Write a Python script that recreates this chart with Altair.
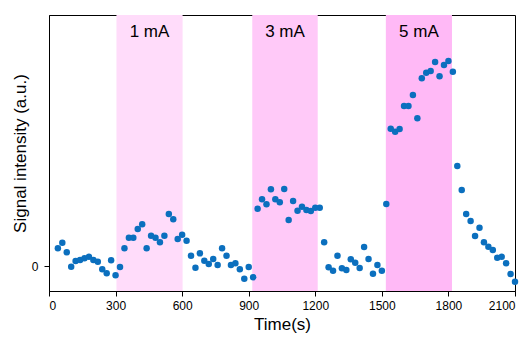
import altair as alt
import pandas as pd

# time (s), step 20 s
times = list(range(40, 2101, 20))
signal = [
    17.7, 23.3, 13.7, -0.7, 5, 6, 7.7, 9.3, 6, 4.3, -3.3, -7.3, 5.7, -9.3, -1,
    17.7, 28.3, 28.3, 37, 41.7, 17.7, 30.3, 28.3, 23.7, 30.3, 52, 46.7, 27, 31.3,
    25.3, 10.3, -1.7, 12.7, 5.3, 2, 7, 1, 17.7, 10.3, 1, 2.7, -3.3, -12.7, -1, -11.3,
    57.3, 66.7, 61.7, 76.7, 66.7, 63.7, 77, 46, 65, 55.3, 59.3, 56, 55, 58.3, 58.3,
    23.7, -1.3, -4.7, 10.3, -2.3, -4, 6.7, 3.3, -2, 19, 7, -7.7, 1, -4.7,
    62, 137.3, 134.3, 137, 160, 160, 171, 147.7, 187.7, 193.3, 195, 204, 189.7,
    201, 205, 194.3,
    100, 76, 52, 45, 30, 38.3, 23.7, 19.3, 16, 8.3, 9.3, 2.7, -8, -15.7,
]

region_labels = ["1 mA", "3 mA", "5 mA"]
region_start = [304, 916, 1518]
region_end = [602, 1211, 1816]
region_colors = ["#FFDCFA", "#FFC9F8", "#FFB9F6"]
label_y = [234, 234, 234]

x_ticks = [0, 300, 600, 900, 1200, 1500, 1800, 2100]
y_ticks = [0]

pts = pd.DataFrame({"t": times, "s": signal})
regions = pd.DataFrame({
    "label": region_labels,
    "start": region_start,
    "end": region_end,
    "mid": [(a + b) / 2 for a, b in zip(region_start, region_end)],
    "ly": label_y,
    "color": region_colors,
})

FONT = "Liberation Sans"
xscale = alt.Scale(domain=[0, 2100], nice=False, zero=False)
yscale = alt.Scale(domain=[-25, 251], nice=False, zero=False)

xaxis = alt.Axis(values=x_ticks, format="d", title="Time(s)", grid=False,
                 labelFontSize=12, titleFontSize=17, titleFontWeight="normal",
                 labelFont=FONT, titleFont=FONT, domainColor="black",
                 tickColor="black", labelColor="black", titleColor="black",
                 tickSize=5, labelPadding=4, titlePadding=5)
yaxis = alt.Axis(values=y_ticks, format="d", title="Signal intensity (a.u.)",
                 grid=False, labelFontSize=12, titleFontSize=17,
                 titleFontWeight="normal", labelFont=FONT, titleFont=FONT,
                 domainColor="black", tickColor="black", labelColor="black",
                 titleColor="black", tickSize=5, labelPadding=6, titlePadding=2)

rects = alt.Chart(regions).mark_rect().encode(
    x=alt.X("start:Q", scale=xscale, axis=xaxis),
    x2="end:Q",
    color=alt.Color("color:N", scale=None),
)

labels = alt.Chart(regions).mark_text(fontSize=17, font=FONT, color="black").encode(
    x=alt.X("mid:Q", scale=xscale),
    y=alt.Y("ly:Q", scale=yscale, axis=yaxis),
    text="label:N",
)

points = alt.Chart(pts).mark_circle(size=42, opacity=1, color="#0B6FBE").encode(
    x=alt.X("t:Q", scale=xscale, axis=xaxis),
    y=alt.Y("s:Q", scale=yscale, axis=yaxis),
)

chart = alt.layer(rects, labels, points).properties(
    width=466, height=276,
    autosize=alt.AutoSizeParams(type="none"),
    padding={"left": 41, "top": 7, "right": 8, "bottom": 50},
    background="white",
).configure_view(stroke="black", strokeWidth=1)

chart.save("out.html", embed_options={"renderer": "svg", "actions": False})
